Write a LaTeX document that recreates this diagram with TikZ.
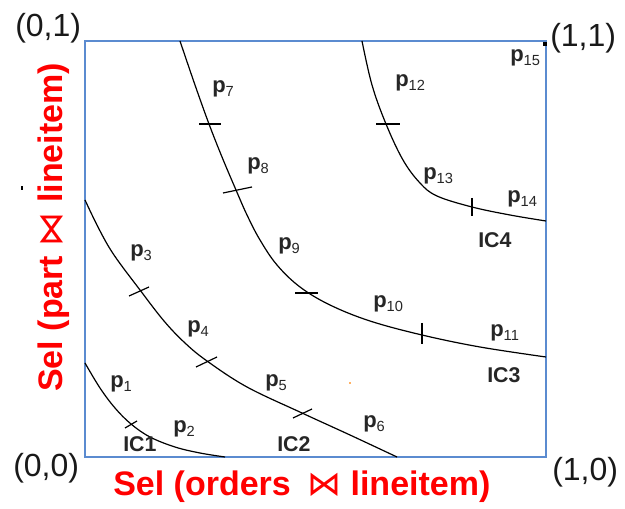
\documentclass[tikz,border=0pt]{standalone}
\usepackage{fontspec}
\setmainfont{Liberation Sans}
\newfontfamily\dejavu{DejaVu Sans}
\newcommand\plab[1]{\textbf{p}\raisebox{-2.6pt}{\fontsize{11}{12}\selectfont #1}}
\begin{document}
\begin{tikzpicture}[x=0.75pt,y=-0.75pt,
  frame/.style={draw={rgb,255:red,91;green,139;blue,208},line width=1.1pt},
  curve/.style={draw=black,line width=0.9pt},
  tick/.style={draw=black,line width=0.9pt},
  plbl/.style={anchor=base west,inner sep=0pt,text=black!85,font=\fontsize{16.5}{18}\selectfont},
  iclbl/.style={anchor=base west,inner sep=0pt,text=black!85,font=\bfseries\fontsize{16}{18}\selectfont},
  corner/.style={anchor=base west,inner sep=0pt,text=black!90,font=\fontsize{24}{28}\selectfont},
  axis/.style={anchor=base west,inner sep=0pt,text=red,font=\bfseries\fontsize{25.5}{30}\selectfont}]
\useasboundingbox (0,0) rectangle (625,509);
% frame
\draw[frame] (85,41) rectangle (546,457);
% curves
\draw[curve] plot[smooth,tension=0.6] coordinates {(85,363) (100,388) (115,408) (131,424) (150,437) (175,447) (200,453) (225,457)};
\draw[curve] plot[smooth,tension=0.6] coordinates {(85,200) (99,229) (114,255) (140,290) (164,321) (185,343) (207,361) (247,387) (302,413) (350,435) (397,457)};
\draw[curve] plot[smooth,tension=0.6] coordinates {(180,41) (195,85) (209,124) (222,157) (236,190) (247,215) (260,240) (277,265) (300,287) (330,305) (370,321) (422,335) (480,347) (546,357)};
\draw[curve] plot[smooth,tension=0.6] coordinates {(362,41) (372,85) (386,124) (403,160) (420,183) (437,196) (472,207) (510,215) (546,221)};
% ticks
\draw[tick] (125,428) -- (137,421);
\draw[tick] (129,296) -- (149,287);
\draw[tick] (196,367) -- (217,357);
\draw[tick] (293,418) -- (312,409);
\draw[tick] (199,124) -- (221,124);
\draw[tick] (223,193) -- (252,187);
\draw[tick] (295,293) -- (318,293);
\draw[tick] (422,323) -- (422,344);
\draw[tick] (376,124) -- (400,124);
\draw[tick] (472,198) -- (472,216);
% corner dot and specks
\fill (543,42) rectangle (547,46);
\fill (21,186) rectangle (23,190);
\fill[orange!60] (349,382) rectangle (351,384);
% p labels
\node[plbl] (p1) at (110,388) {\plab{1}};
\node[plbl] (p2) at (173,433) {\plab{2}};
\node[plbl] (p3) at (130,257) {\plab{3}};
\node[plbl] (p4) at (187,333) {\plab{4}};
\node[plbl] (p5) at (265,387) {\plab{5}};
\node[plbl] (p6) at (363,428) {\plab{6}};
\node[plbl] (p7) at (212,93) {\plab{7}};
\node[plbl] (p8) at (247,170) {\plab{8}};
\node[plbl] (p9) at (278,250) {\plab{9}};
\node[plbl] (p10) at (373,308) {\plab{10}};
\node[plbl] (p11) at (490,337) {\plab{11}};
\node[plbl] (p12) at (395,87) {\plab{12}};
\node[plbl] (p13) at (423,180) {\plab{13}};
\node[plbl] (p14) at (507,203) {\plab{14}};
\node[plbl] (p15) at (510,62) {\plab{15}};
% IC labels
\node[iclbl] (ic1) at (123,452) {IC1};
\node[iclbl] (ic2) at (277,452) {IC2};
\node[iclbl] (ic3) at (487,383) {IC3};
\node[iclbl] (ic4) at (478,248) {IC4};
% corners
\node[corner] (c01) at (15,37) {(0,1)};
\node[corner] (c11) at (550,47) {(1,1)};
\node[corner] (c00) at (13,477) {(0,0)};
\node[corner] (c10) at (552,480) {(1,0)};
% axis labels
\node[axis] (xlab) at (113,495) {Sel (orders\hspace{0.2em} {\dejavu\mdseries ⋈} lineitem)};
\node[axis,rotate=90] (ylab) at (62,392) {Sel (part {\dejavu\mdseries ⋈} lineitem)};
\end{tikzpicture}
\end{document}
